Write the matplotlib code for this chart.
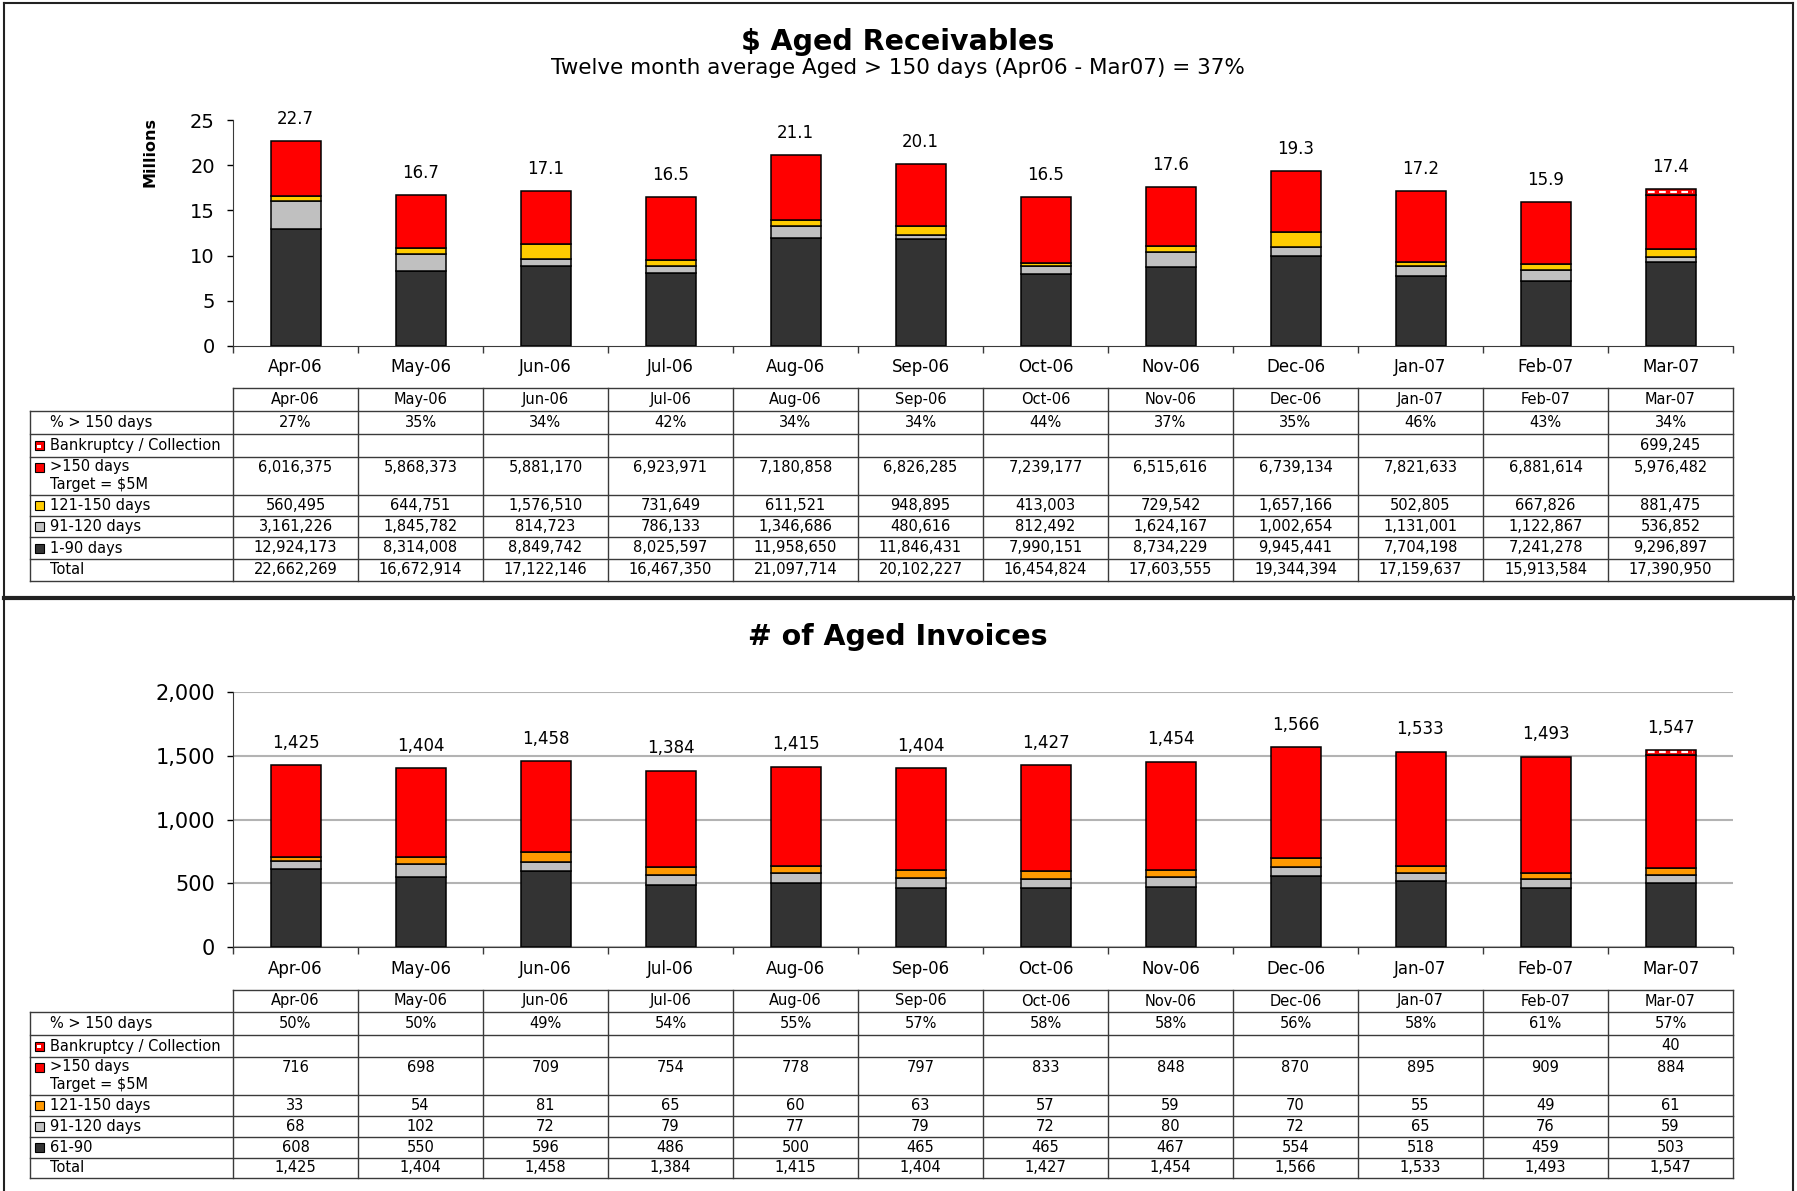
import matplotlib
matplotlib.use("Agg")
import matplotlib.pyplot as plt
from matplotlib.patches import Rectangle
from matplotlib.ticker import FuncFormatter, MultipleLocator
import numpy as np

months = ["Apr-06", "May-06", "Jun-06", "Jul-06", "Aug-06", "Sep-06",
          "Oct-06", "Nov-06", "Dec-06", "Jan-07", "Feb-07", "Mar-07"]

# $ Aged Receivables (dollars)
rec_pct = [27, 35, 34, 42, 34, 34, 44, 37, 35, 46, 43, 34]
rec_bankruptcy = [0, 0, 0, 0, 0, 0, 0, 0, 0, 0, 0, 699245]
rec_over_150 = [6016375, 5868373, 5881170, 6923971, 7180858, 6826285,
                7239177, 6515616, 6739134, 7821633, 6881614, 5976482]
rec_121_150 = [560495, 644751, 1576510, 731649, 611521, 948895,
               413003, 729542, 1657166, 502805, 667826, 881475]
rec_91_120 = [3161226, 1845782, 814723, 786133, 1346686, 480616,
              812492, 1624167, 1002654, 1131001, 1122867, 536852]
rec_1_90 = [12924173, 8314008, 8849742, 8025597, 11958650, 11846431,
            7990151, 8734229, 9945441, 7704198, 7241278, 9296897]
rec_total = [22662269, 16672914, 17122146, 16467350, 21097714, 20102227,
             16454824, 17603555, 19344394, 17159637, 15913584, 17390950]

# # of Aged Invoices
inv_pct = [50, 50, 49, 54, 55, 57, 58, 58, 56, 58, 61, 57]
inv_bankruptcy = [0, 0, 0, 0, 0, 0, 0, 0, 0, 0, 0, 40]
inv_over_150 = [716, 698, 709, 754, 778, 797, 833, 848, 870, 895, 909, 884]
inv_121_150 = [33, 54, 81, 65, 60, 63, 57, 59, 70, 55, 49, 61]
inv_91_120 = [68, 102, 72, 79, 77, 79, 72, 80, 72, 65, 76, 59]
inv_61_90 = [608, 550, 596, 486, 500, 465, 465, 467, 554, 518, 459, 503]
inv_total = [1425, 1404, 1458, 1384, 1415, 1404, 1427, 1454, 1566, 1533, 1493, 1547]

DARK = "#333333"
SILVER = "#C0C0C0"
YELLOW = "#FFCC00"
ORANGE = "#FF9900"
RED = "#FF0000"
LINE = "#3a3a3a"

W, H = 1797, 1191
fig = plt.figure(figsize=(W / 100, H / 100), dpi=100)
plt.rcParams['font.family'] = ['DejaVu Sans']

# overlay axes in pixel coordinates for titles, borders and tables
ov = fig.add_axes([0, 0, 1, 1])
ov.set_xlim(0, W)
ov.set_ylim(H, 0)
ov.axis("off")

AX_L, AX_R = 233, 1733
LAB_L = 30
col_x = np.linspace(AX_L, AX_R, len(months) + 1)


def px_box(l, t, r, b):
    return [l / W, 1 - b / H, (r - l) / W, (b - t) / H]


def draw_chart(ax, segments, bank, totals, ymax, step, fmt_tick, fmt_total, grid, ysize):
    x = np.arange(len(months))
    bottom = np.zeros(len(months))
    for vals, col in segments:
        vals = np.asarray(vals, dtype=float)
        ax.bar(x, vals, 0.4, bottom=bottom, color=col, edgecolor="black", linewidth=1.1, zorder=3)
        bottom += vals
    bank = np.asarray(bank, dtype=float)
    mask = bank > 0
    ax.bar(x[mask], bank[mask], 0.4, bottom=bottom[mask], color=RED,
           edgecolor="black", linewidth=1.1, zorder=3)
    # white dashes in the bankruptcy segment
    for i in np.nonzero(mask)[0]:
        mid = bottom[i] + bank[i] / 2
        ax.plot([x[i] - 0.18, x[i] + 0.18], [mid, mid], color="white", lw=1.6,
                ls=(0, (3, 2)), zorder=4)
    bottom += bank
    for i in range(len(months)):
        ax.annotate(fmt_total(totals[i]), (x[i], bottom[i]), xytext=(0, 16),
                    textcoords="offset points", ha="center", va="center", fontsize=12)

    ax.set_xlim(-0.5, len(months) - 0.5)
    ax.set_ylim(0, ymax)
    ax.yaxis.set_major_locator(MultipleLocator(step))
    ax.yaxis.set_major_formatter(FuncFormatter(fmt_tick))
    ax.set_xticks(x)
    ax.set_xticklabels(months, fontsize=12)
    ax.set_xticks(np.arange(len(months) + 1) - 0.5, minor=True)
    ax.tick_params(axis="x", which="major", length=0, pad=9)
    ax.tick_params(axis="x", which="minor", length=5, width=1, color=LINE)
    ax.tick_params(axis="y", length=4, width=1, pad=9, labelsize=ysize)
    for s in ["top", "right"]:
        ax.spines[s].set_visible(False)
    ax.spines["left"].set_color(LINE)
    ax.spines["bottom"].set_color(LINE)
    if grid:
        ax.yaxis.grid(True, color="#b3b3b3", lw=1.5)
        ax.set_axisbelow(True)


def marker(xc, yc, col):
    if col is None:
        return
    if col == "bank":
        ov.add_patch(Rectangle((xc - 4.5, yc - 4.5), 9, 9, facecolor=RED, edgecolor="black", lw=0.8))
        ov.add_patch(Rectangle((xc - 2, yc - 1), 4, 3, facecolor="white", edgecolor="none"))
    else:
        ov.add_patch(Rectangle((xc - 4.5, yc - 4.5), 9, 9, facecolor=col, edgecolor="black", lw=0.8))


def draw_table(bounds, rows):
    top = bounds[0]
    bot = bounds[-1]
    # header
    ov.plot([AX_L, AX_R], [top, top], color=LINE, lw=1)
    for xv in col_x:
        ov.plot([xv, xv], [top, bot], color=LINE, lw=1)
    ov.plot([LAB_L, LAB_L], [bounds[1], bot], color=LINE, lw=1)
    for yv in bounds[1:]:
        ov.plot([LAB_L, AX_R], [yv, yv], color=LINE, lw=1)
    centers = (col_x[:-1] + col_x[1:]) / 2
    hy = (bounds[0] + bounds[1]) / 2
    for cx, m in zip(centers, months):
        ov.text(cx, hy, m, ha="center", va="center", fontsize=10.5)
    for k, (labels, col, vals) in enumerate(rows):
        t, b = bounds[k + 1], bounds[k + 2]
        if len(labels) == 1:
            ys = [(t + b) / 2]
        else:
            ys = [t + 10, t + 27]
        marker(LAB_L + 9, ys[0], col)
        for lab, yy in zip(labels, ys):
            ov.text(LAB_L + 20, yy, lab, ha="left", va="center", fontsize=10.5)
        for cx, v in zip(centers, vals):
            ov.text(cx, ys[0], v, ha="center", va="center", fontsize=10.5)


def fmt_num(vals):
    return ["" if v == 0 else f"{v:,}" for v in vals]


# ---- panel borders
ov.plot([4, 4], [3, H], color="#222222", lw=1.5)
ov.plot([1793, 1793], [3, H], color="#222222", lw=1.5)
ov.plot([4, 1793], [3, 3], color="#222222", lw=1.5)
ov.plot([4, 1793], [598, 598], color="#222222", lw=3)

# ---- $ Aged Receivables
ov.text(898, 42, "$ Aged Receivables", ha="center", va="center", fontsize=20.5, fontweight="bold")
ov.text(898, 68, "Twelve month average Aged > 150 days (Apr06 - Mar07) = 37%",
        ha="center", va="center", fontsize=15.5)
ov.text(150, 152, "Millions", rotation=90, ha="center", va="center", fontsize=11.5, fontweight="bold")

ax1 = fig.add_axes(px_box(AX_L, 120, AX_R, 346))
m = 1e6
draw_chart(ax1,
           [(np.array(rec_1_90) / m, DARK), (np.array(rec_91_120) / m, SILVER),
            (np.array(rec_121_150) / m, YELLOW), (np.array(rec_over_150) / m, RED)],
           np.array(rec_bankruptcy) / m, rec_total, 25, 5,
           lambda v, p: f"{v:.0f}", lambda t: f"{t / m:.1f}", False, 14)

draw_table([388, 411, 434, 457, 495, 516, 537, 559, 581], [
    (["% > 150 days"], None, [f"{p}%" for p in rec_pct]),
    (["Bankruptcy / Collection"], "bank", fmt_num(rec_bankruptcy)),
    ([">150 days", "Target = $5M"], RED, fmt_num(rec_over_150)),
    (["121-150 days"], YELLOW, fmt_num(rec_121_150)),
    (["91-120 days"], SILVER, fmt_num(rec_91_120)),
    (["1-90 days"], DARK, fmt_num(rec_1_90)),
    (["Total"], None, fmt_num(rec_total)),
])

# ---- # of Aged Invoices
ov.text(898, 637, "# of Aged Invoices", ha="center", va="center", fontsize=20.5, fontweight="bold")

ax2 = fig.add_axes(px_box(AX_L, 692, AX_R, 947))
draw_chart(ax2,
           [(inv_61_90, DARK), (inv_91_120, SILVER), (inv_121_150, ORANGE), (inv_over_150, RED)],
           inv_bankruptcy, inv_total, 2000, 500,
           lambda v, p: f"{v:,.0f}", lambda t: f"{t:,}", True, 15)

draw_table([990, 1012, 1035, 1057, 1095, 1116, 1137, 1158, 1178], [
    (["% > 150 days"], None, [f"{p}%" for p in inv_pct]),
    (["Bankruptcy / Collection"], "bank", fmt_num(inv_bankruptcy)),
    ([">150 days", "Target = $5M"], RED, fmt_num(inv_over_150)),
    (["121-150 days"], ORANGE, fmt_num(inv_121_150)),
    (["91-120 days"], SILVER, fmt_num(inv_91_120)),
    (["61-90"], DARK, fmt_num(inv_61_90)),
    (["Total"], None, fmt_num(inv_total)),
])

fig.savefig("out.png", dpi=100)
